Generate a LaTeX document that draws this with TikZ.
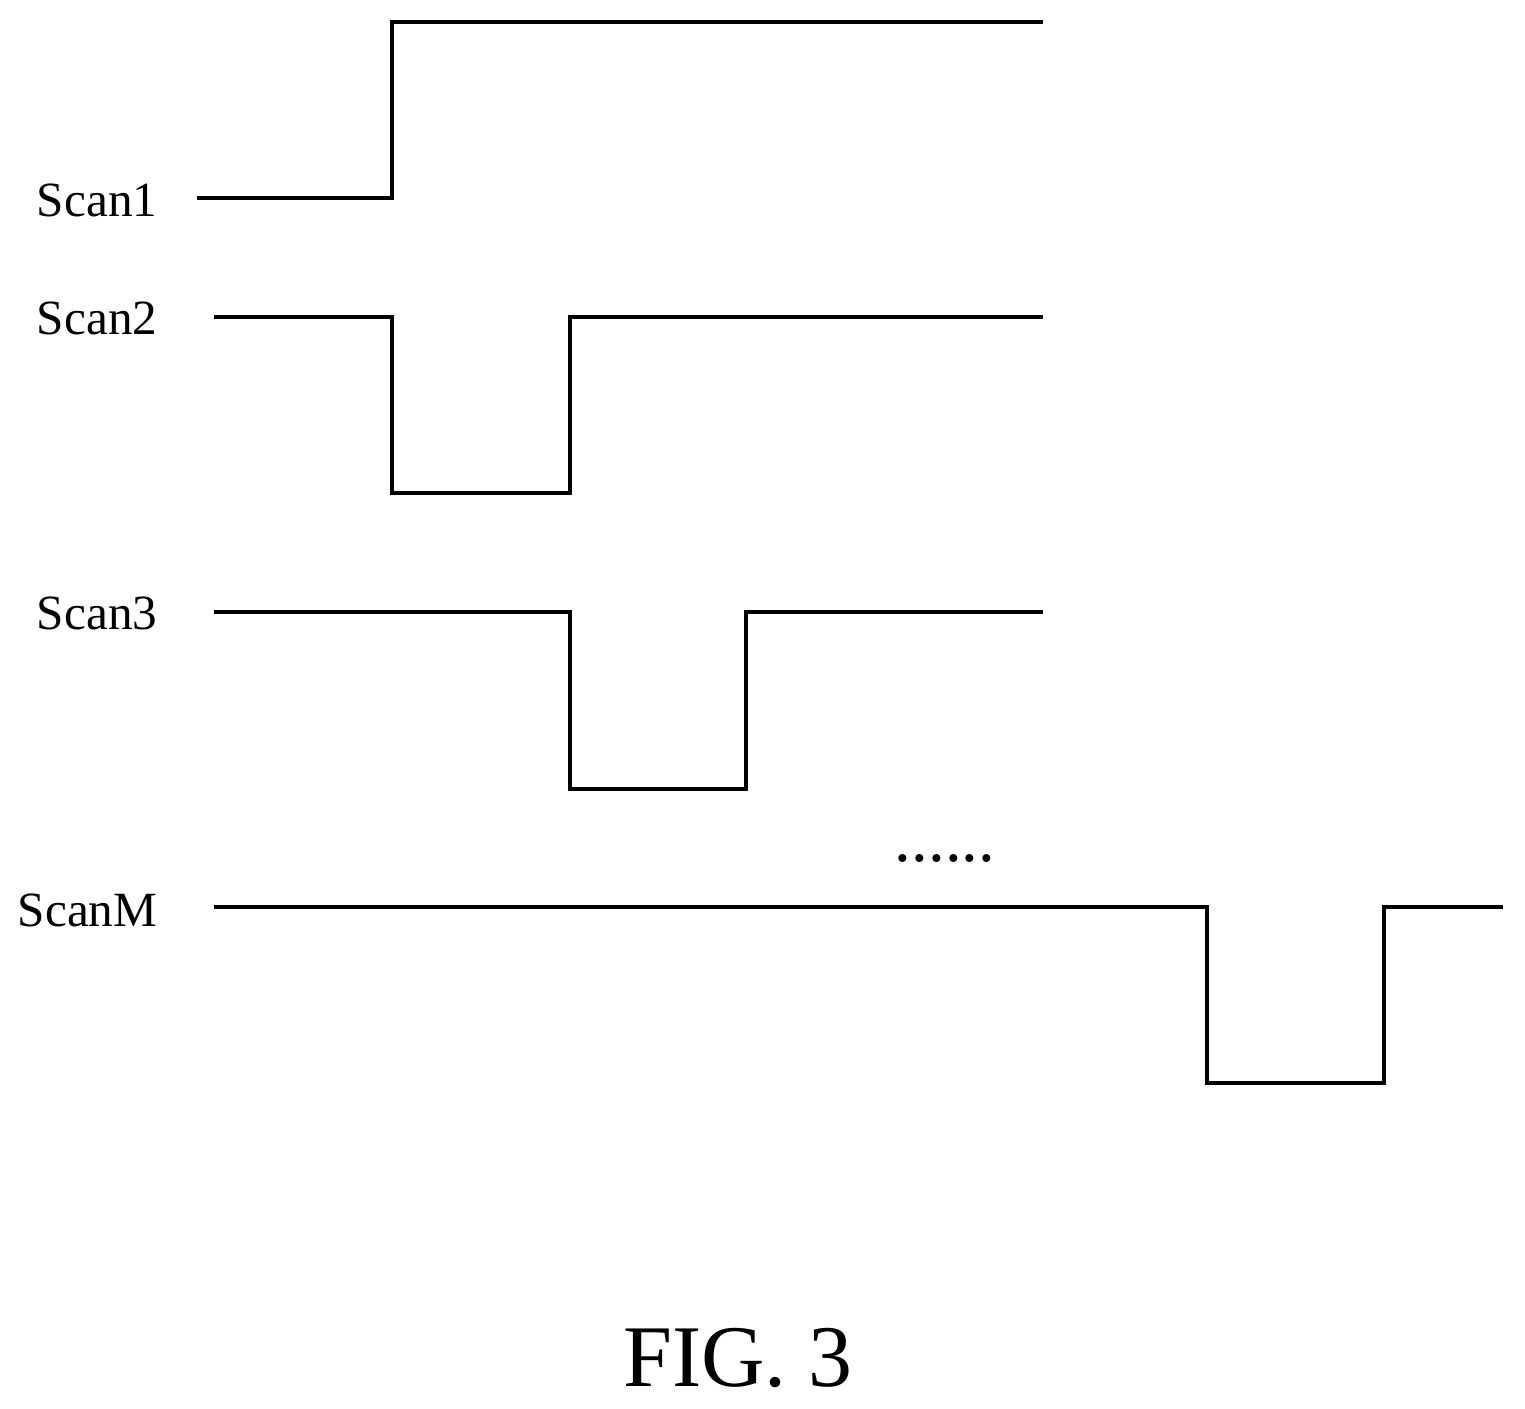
\documentclass[tikz,border=0pt]{standalone}
\usepackage{fontspec}
\setmainfont{Liberation Serif}
\usetikzlibrary{positioning}

\begin{document}
\begin{tikzpicture}[
    x=0.01cm, y=-0.01cm,
    wave/.style={line width=0.9pt, line join=miter},
    lbl/.style={font=\fontsize{14}{16}\selectfont, anchor=east, inner sep=0pt}
]
    \useasboundingbox (0,0) rectangle (1525,1408);

    % Labels
    \node[lbl] (s1) at (158,200) {Scan1};
    \node[lbl] (s2) at (158,318) {Scan2};
    \node[lbl] (s3) at (158,613) {Scan3};
    \node[lbl] (sm) at (158,910) {ScanM};

    % Waveforms
    \draw[wave] (197,198) -- (392,198) -- (392,22) -- (1043,22);
    \draw[wave] (214,317) -- (392,317) -- (392,493) -- (570,493) -- (570,317) -- (1043,317);
    \draw[wave] (214,612) -- (570,612) -- (570,789) -- (746,789) -- (746,612) -- (1043,612);
    \draw[wave] (214,907) -- (1207,907) -- (1207,1083) -- (1384,1083) -- (1384,907) -- (1503,907);

    \node[font=\fontsize{19}{20}\selectfont, inner sep=0pt] (dots) at (945,858) {......};

    % Caption
    \node[font=\fontsize{25}{28}\selectfont, inner sep=0pt] (fig) at (738,1358) {FIG. 3};
\end{tikzpicture}
\end{document}
